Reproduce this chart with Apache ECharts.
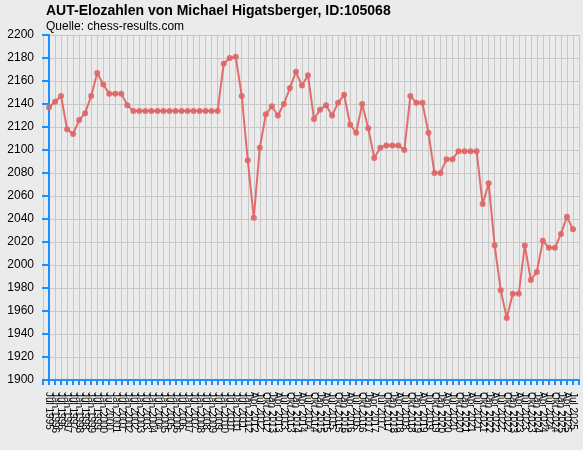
<!DOCTYPE html>
<html>
<head>
<meta charset="utf-8">
<script src="https://cdn.jsdelivr.net/npm/echarts@6/dist/echarts.min.js"></script>
<style>
    html, body {margin: 0; padding: 0; background: #ebebeb;}
    #chart {width: 583px; height: 450px;}
</style>
</head>
<body>
<div id="chart"></div>
<script>
// Monatsbezeichnungen der Elolisten
var dates = [
    'Jul 1995', 'Jan 1996', 'Jul 1996', 'Jan 1997', 'Jul 1997', 'Jan 1998', 'Jul 1998', 'Jan 1999',
    'Jul 1999', 'Jan 2000', 'Jul 2000', 'Jan 2001', 'Jul 2001', 'Jan 2002', 'Jul 2002', 'Jan 2003',
    'Jul 2003', 'Jan 2004', 'Jul 2004', 'Jan 2005', 'Jul 2005', 'Jan 2006', 'Jul 2006', 'Jan 2007',
    'Jul 2007', 'Jan 2008', 'Jul 2008', 'Jan 2009', 'Jul 2009', 'Jan 2010', 'Jul 2010', 'Jan 2011',
    'Jul 2011', 'Jan 2012', 'Apr 2012', 'Jul 2012', 'Okt 2012', 'Jan 2013', 'Apr 2013', 'Jul 2013',
    'Okt 2013', 'Jan 2014', 'Apr 2014', 'Jul 2014', 'Okt 2014', 'Jan 2015', 'Apr 2015', 'Jul 2015',
    'Okt 2015', 'Jan 2016', 'Apr 2016', 'Jul 2016', 'Okt 2016', 'Jan 2017', 'Apr 2017', 'Jul 2017',
    'Okt 2017', 'Jan 2018', 'Apr 2018', 'Jul 2018', 'Okt 2018', 'Jan 2019', 'Apr 2019', 'Jul 2019',
    'Okt 2019', 'Jan 2020', 'Apr 2020', 'Jul 2020', 'Okt 2020', 'Jan 2021', 'Apr 2021', 'Jul 2021',
    'Okt 2021', 'Jan 2022', 'Apr 2022', 'Jul 2022', 'Okt 2022', 'Jan 2023', 'Apr 2023', 'Jul 2023',
    'Okt 2023', 'Jan 2024', 'Apr 2024', 'Jul 2024', 'Okt 2024', 'Jan 2025', 'Apr 2025', 'Jul 2025'
];

// Elozahl je Liste
var elo = [
    2137, 2142, 2147, 2118, 2114, 2126, 2132, 2147, 2167, 2157, 2149, 2149, 2149, 2139, 2134, 2134,
    2134, 2134, 2134, 2134, 2134, 2134, 2134, 2134, 2134, 2134, 2134, 2134, 2134, 2175, 2180, 2181,
    2147, 2091, 2041, 2102, 2131, 2138, 2130, 2140, 2154, 2168, 2156, 2165, 2127, 2135, 2139, 2130,
    2141, 2148, 2122, 2115, 2140, 2119, 2093, 2102, 2104, 2104, 2104, 2100, 2147, 2141, 2141, 2115,
    2080, 2080, 2092, 2092, 2099, 2099, 2099, 2099, 2053, 2071, 2017, 1978, 1954, 1975, 1975, 2017,
    1987, 1994, 2021, 2015, 2015, 2027, 2042, 2031
];

var blue = '#1e8fff';
var points = [];
for (let i = 0; i < elo.length; i++) {
    points.push([i, elo[i]]);
}

var myChart = echarts.init(document.getElementById('chart'));

var option = {
    backgroundColor: '#ebebeb',
    animation: false,
    title: [{
        text: 'AUT-Elozahlen von Michael Higatsberger, ID:105068',
        left: 41,
        top: -1,
        textStyle: {fontFamily: 'Liberation Sans', fontSize: 14, fontWeight: 'bold', color: '#000'}
    }, {
        text: 'Quelle: chess-results.com',
        left: 41,
        top: 16,
        textStyle: {fontFamily: 'Liberation Sans', fontSize: 12, fontWeight: 'normal', color: '#000'}
    }],
    grid: {
        left: 43,
        right: 4,
        top: 35,
        bottom: 70,
        containLabel: false
    },
    xAxis: {
        type: 'value',
        min: -1,
        max: 88,
        interval: 1,
        axisLine: {show: true, onZero: false, lineStyle: {color: blue, width: 2}},
        axisTick: {show: true, length: 5, lineStyle: {color: blue, width: 2}},
        axisLabel: {
            rotate: -90,
            margin: 12,
            fontFamily: 'Liberation Sans',
            fontSize: 10,
            color: '#000',
            showMinLabel: true,
            showMaxLabel: true,
            formatter: function (v) {
                if (v >= 0 && v < dates.length && v === Math.round(v)) return dates[v];
                return '';
            }
        },
        splitLine: {show: true, lineStyle: {color: '#c8c8c8', width: 1}}
    },
    yAxis: {
        type: 'value',
        min: 1900,
        max: 2200,
        interval: 20,
        axisLine: {show: true, lineStyle: {color: blue, width: 2}},
        axisTick: {show: true, length: 7, lineStyle: {color: blue, width: 2}},
        axisLabel: {
            margin: 9,
            fontFamily: 'Liberation Sans',
            fontSize: 12,
            color: '#000',
            formatter: function (v) { return String(v); }
        },
        splitLine: {show: true, lineStyle: {color: '#c8c8c8', width: 1}}
    },
    series: [{
        type: 'line',
        data: points,
        symbol: 'circle',
        symbolSize: 6,
        itemStyle: {color: '#e06565', opacity: 0.9},
        lineStyle: {color: '#e06060', width: 2, opacity: 0.9}
    }]
};
myChart.setOption(option);
</script>
</body>
</html>
